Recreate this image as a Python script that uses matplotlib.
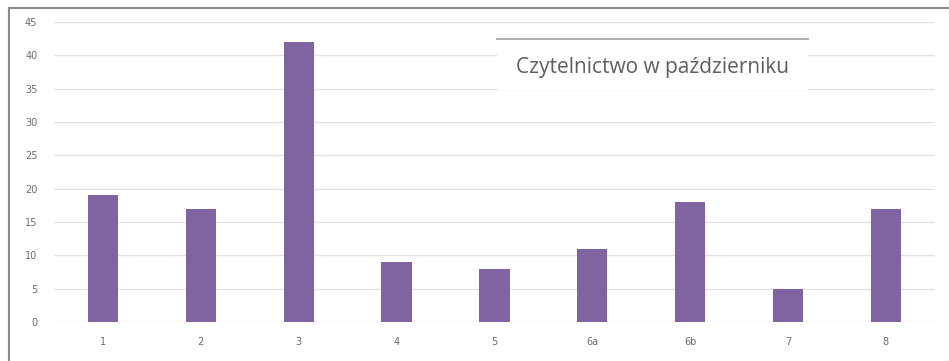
import matplotlib.pyplot as plt
from matplotlib.lines import Line2D
from matplotlib.patches import Rectangle

# reading stats per class, October
classes = ["1", "2", "3", "4", "5", "6a", "6b", "7", "8"]
readers = [19, 17, 42, 9, 8, 11, 18, 5, 17]
y_ticks = [0, 5, 10, 15, 20, 25, 30, 35, 40, 45]
title = "Czytelnictwo w październiku"

fig = plt.figure(figsize=(9.49, 3.61), dpi=100)
fig.patch.set_facecolor("white")
ax = fig.add_axes([0.057, 0.108, 0.928, 0.831])

x = range(len(classes))
ax.bar(x, readers, width=0.31, color="#8064A2", zorder=3)

ax.set_xlim(-0.5, len(classes) - 0.5)
ax.set_ylim(0, 45)
ax.set_yticks(y_ticks)
ax.set_xticks(list(x))
ax.set_xticklabels(classes)
ax.grid(axis="y", color="#e3e3e3", linewidth=1, zorder=0)
ax.tick_params(axis="both", length=0, labelsize=7, colors="#6b6b6b")
ax.tick_params(axis="x", pad=11)
ax.tick_params(axis="y", pad=12)
for s in ax.spines.values():
    s.set_visible(False)

# white box holding the title, with a grey rule on top
bx0, bx1 = 0.503, 0.856
box = Rectangle((bx0, 0.773), bx1 - bx0, 0.17, transform=ax.transAxes,
                facecolor="white", edgecolor="none", zorder=4)
ax.add_patch(box)
ax.add_line(Line2D([bx0, bx1], [0.943, 0.943], transform=ax.transAxes,
                   color="#a6a6a6", linewidth=1.3, zorder=5))
ax.text(0.679, 0.847, title, transform=ax.transAxes, ha="center", va="center",
        fontsize=15, color="#5e5e5e", family="Open Sans", zorder=6)

# frame around the picture (top and left only)
fig.add_artist(Line2D([0.0095, 1.0], [0.977, 0.977], color="#8a8a8a", linewidth=1.5))
fig.add_artist(Line2D([0.0095, 0.0095], [0.0, 0.977], color="#8a8a8a", linewidth=1.5))

fig.savefig("out.png", dpi=100)
